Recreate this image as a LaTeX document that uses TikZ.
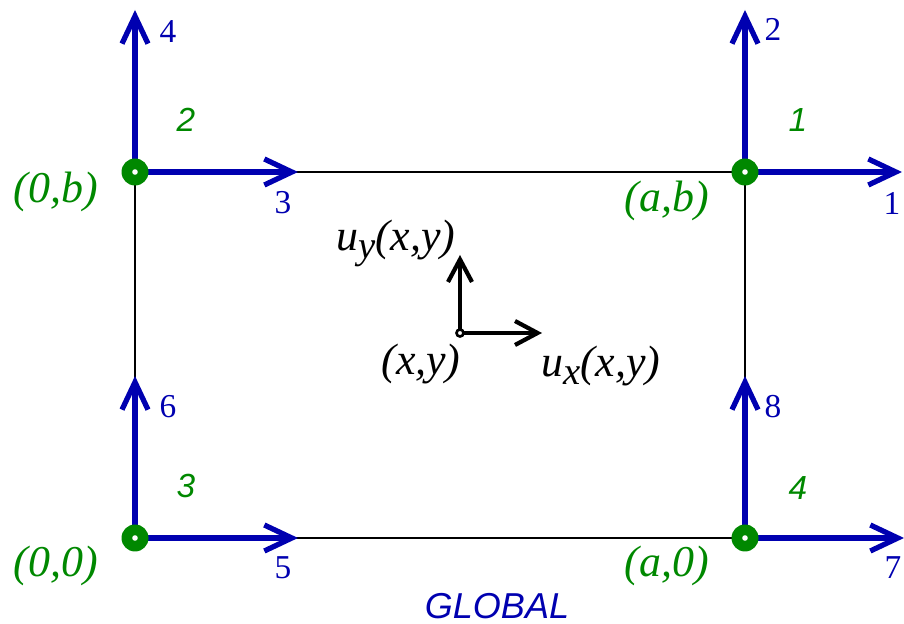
\documentclass[tikz,border=0pt]{standalone}
\usepackage{fontspec}
\setmainfont{Liberation Serif}
\setsansfont{Liberation Sans}
\usetikzlibrary{arrows.meta}
\definecolor{dofblue}{RGB}{0,0,176}
\definecolor{nodegreen}{RGB}{0,136,0}

\begin{document}
\begin{tikzpicture}[x=0.02cm, y=-0.02cm,
    edge/.style={draw=black, line width=1.1pt},
    dof/.style={-{Straight Barb[length=5.5mm, width=5.2mm]}, dofblue, line width=3pt},
    disp/.style={-{Straight Barb[length=4.5mm, width=4.8mm]}, black, line width=2.4pt},
    dofnum/.style={text=dofblue, font=\fontsize{19}{21}\selectfont},
    nodenum/.style={text=nodegreen, font=\fontsize{19}{21}\selectfont\sffamily\itshape},
    corner/.style={text=nodegreen, font=\fontsize{25}{28}\selectfont\itshape},
    pointlbl/.style={text=black, font=\fontsize{25}{28}\selectfont\itshape}
  ]
    \useasboundingbox (0,0) rectangle (904,624);
    % element corners
    \coordinate (n1) at (745,172);
    \coordinate (n2) at (135,172);
    \coordinate (n3) at (135,538);
    \coordinate (n4) at (745,538);
    % ends of the nodal dofs
    \coordinate (d1) at (902,172);
    \coordinate (d2) at (745,10);
    \coordinate (d3) at (298,172);
    \coordinate (d4) at (135,10);
    \coordinate (d5) at (298,538);
    \coordinate (d6) at (135,376);
    \coordinate (d7) at (904,538);
    \coordinate (d8) at (745,376);
    \draw[edge] (n1) -- (n2) -- (n3) -- (n4) -- cycle;
    \draw[dof] (n1) -- (d1);
    \draw[dof] (n1) -- (d2);
    \draw[dof] (n2) -- (d3);
    \draw[dof] (n2) -- (d4);
    \draw[dof] (n3) -- (d5);
    \draw[dof] (n3) -- (d6);
    \draw[dof] (n4) -- (d7);
    \draw[dof] (n4) -- (d8);
    \foreach \n in {n1,n2,n3,n4} {
      \fill[nodegreen] (\n) circle (13.5);
      \fill[white] (\n) circle (2.8);
    }
    \node[dofnum] (l1) at (892,203) {1};
    \node[dofnum] (l2) at (773,29) {2};
    \node[dofnum] (l3) at (283,203) {3};
    \node[dofnum] (l4) at (168,32) {4};
    \node[dofnum] (l5) at (283,568) {5};
    \node[dofnum] (l6) at (168,407) {6};
    \node[dofnum] (l7) at (893,568) {7};
    \node[dofnum] (l8) at (773,407) {8};
    \node[nodenum] (k1) at (798,120) {1};
    \node[nodenum] (k2) at (186,120) {2};
    \node[nodenum] (k3) at (186,486) {3};
    \node[nodenum] (k4) at (798,488) {4};
    \node[corner] (ab) at (667,201) {(a,b)};
    \node[corner] (zb) at (56,192) {(0,b)};
    \node[corner] (zz) at (56,566) {(0,0)};
    \node[corner] (az) at (667,566) {(a,0)};
    % displacement at an inner point
    \coordinate (p) at (460,333);
    \coordinate (uy) at (460,255);
    \coordinate (ux) at (542,333);
    \draw[disp] (p) -- (uy);
    \draw[disp] (p) -- (ux);
    \filldraw[fill=white, draw=black, line width=1.5pt] (p) circle (3.5);
    \node[pointlbl] (luy) at (396,243) {u\raisebox{-0.4ex}{\fontsize{22}{24}\selectfont y}(x,y)};
    \node[pointlbl] (lp) at (421,364) {(x,y)};
    \node[pointlbl] (lux) at (601,366) {u\raisebox{-0.4ex}{\fontsize{22}{24}\selectfont x}(x,y)};
    \node[text=dofblue, font=\fontsize{20.5}{23}\selectfont\sffamily\itshape] (glob) at (497,606) {GLOBAL};
  \end{tikzpicture}
\end{document}
